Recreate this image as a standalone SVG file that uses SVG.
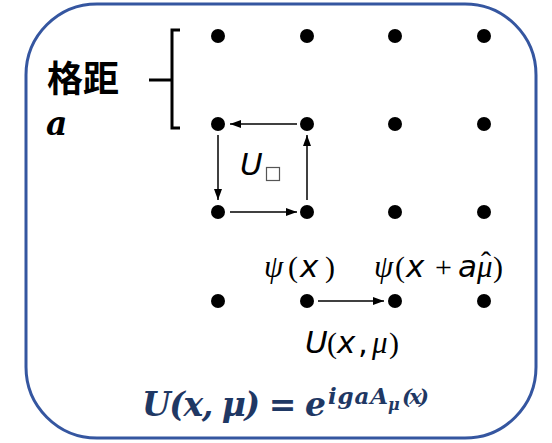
<svg xmlns="http://www.w3.org/2000/svg" width="552" height="443" viewBox="0 0 552 443">
<style>
.dot{fill:#000}
.ln{stroke:#000;stroke-width:1.5;fill:none}
.m{font-family:"DejaVu Sans","Liberation Sans",sans-serif;font-size:31px;fill:#000}
.it{font-style:italic}
.gr{font-family:"Liberation Serif","DejaVu Serif",serif;font-style:italic;font-size:31px}
.sr{font-family:"Liberation Serif","DejaVu Serif",serif;font-size:30px}
.eq{font-family:"DejaVu Serif","Liberation Serif",serif;font-style:italic;font-weight:bold;fill:#1F3864}
</style>
<defs>
<marker id="ah" markerUnits="userSpaceOnUse" markerWidth="12" markerHeight="10" refX="11" refY="4" orient="auto">
<path d="M0,0 L11,4 L0,8 Z" fill="#000"/>
</marker>
</defs>
<rect id="frame" x="26" y="4" width="510" height="434" rx="71" ry="71" fill="#fff" stroke="#3556A0" stroke-width="3"/>
<g id="spacing">
<text x="47" y="92" font-family="'Noto Sans CJK SC',sans-serif" font-size="36" font-weight="bold" fill="#000">格距</text>
<text x="46" y="135" font-family="'DejaVu Serif',serif" font-style="italic" font-weight="bold" font-size="33" fill="#000">a</text>
<path d="M180,30 L172,30 L172,128 L180,128 M149,80 L172,80" stroke="#000" stroke-width="3" fill="none"/>
</g>
<g id="lattice">
<circle class="dot" cx="218" cy="36" r="7"/><circle class="dot" cx="307" cy="36" r="7"/><circle class="dot" cx="395" cy="36" r="7"/><circle class="dot" cx="484" cy="36" r="7"/>
<circle class="dot" cx="218" cy="124" r="7"/><circle class="dot" cx="307" cy="124" r="7"/><circle class="dot" cx="395" cy="124" r="7"/><circle class="dot" cx="484" cy="124" r="7"/>
<circle class="dot" cx="218" cy="212" r="7"/><circle class="dot" cx="307" cy="212" r="7"/><circle class="dot" cx="395" cy="212" r="7"/><circle class="dot" cx="484" cy="212" r="7"/>
<circle class="dot" cx="218" cy="301" r="7"/><circle class="dot" cx="307" cy="301" r="7"/><circle class="dot" cx="395" cy="301" r="7"/><circle class="dot" cx="484" cy="301" r="7"/>
</g>
<g id="connectors">
<line class="ln" x1="297" y1="124" x2="230" y2="124" marker-end="url(#ah)"/>
<line class="ln" x1="218" y1="135" x2="218" y2="200" marker-end="url(#ah)"/>
<line class="ln" x1="230" y1="212" x2="297" y2="212" marker-end="url(#ah)"/>
<line class="ln" x1="307" y1="200" x2="307" y2="135" marker-end="url(#ah)"/>
<line class="ln" x1="318" y1="301" x2="384" y2="301" marker-end="url(#ah)"/>
</g>
<g id="plaquette-label">
<text class="m it" x="240" y="175" font-size="28">U</text>
<rect x="266.5" y="167.5" width="13" height="13" fill="none" stroke="#555" stroke-width="1.2"/>
</g>
<g id="psi-x">
<text class="m" y="277"><tspan class="gr" x="264">ψ</tspan><tspan class="sr" x="288">(</tspan><tspan class="it" x="300">x</tspan><tspan class="sr" x="325">)</tspan></text>
</g>
<g id="psi-xa">
<text class="m" y="277"><tspan class="gr" x="374">ψ</tspan><tspan class="sr" x="395">(</tspan><tspan class="it" x="406">x</tspan><tspan class="sr" x="435" font-size="32">+</tspan><tspan class="it" x="458">a</tspan><tspan class="gr" x="477">μ</tspan><tspan class="sr" x="493">)</tspan><tspan class="sr" x="481" y="272" font-size="24">ˆ</tspan></text>
</g>
<g id="link-label">
<text class="m" y="353"><tspan class="it" x="305">U</tspan><tspan class="sr" x="327">(</tspan><tspan class="it" x="337">x</tspan><tspan x="358">,</tspan><tspan class="gr" x="372">μ</tspan><tspan class="sr" x="389">)</tspan></text>
</g>
<g id="formula">
<text class="eq" x="142" y="416" font-size="33" textLength="184" lengthAdjust="spacing">U(x, μ) = e</text>
<text class="eq" x="328" y="404" font-size="23" textLength="60" lengthAdjust="spacing">igaA</text>
<text class="eq" x="388" y="410" font-size="16">μ</text>
<text class="eq" x="402" y="404" font-size="21" textLength="27" lengthAdjust="spacing">(x)</text>
</g>
</svg>
